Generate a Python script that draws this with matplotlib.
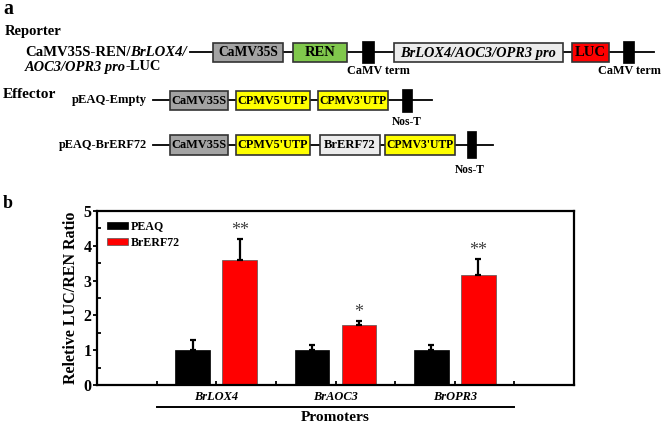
import matplotlib.pyplot as plt
import matplotlib.transforms as mtransforms
from matplotlib.patches import Rectangle

# bar chart data (panel b)
promoters = ['BrLOX4', 'BrAOC3', 'BrOPR3']
peaq = [1.0, 1.0, 1.0]
peaq_err = [0.28, 0.14, 0.16]
erf72 = [3.58, 1.73, 3.15]
erf72_err = [0.62, 0.11, 0.47]
stars = ['**', '*', '**']

# construct labels (panel a)
reporter_parts = ['CaMV35S', 'REN', 'BrLOX4/AOC3/OPR3 pro', 'LUC']
empty_parts = ['CaMV35S', "CPMV5'UTP", "CPMV3'UTP"]
erf_parts = ['CaMV35S', "CPMV5'UTP", 'BrERF72', "CPMV3'UTP"]

plt.rcParams['font.family'] = ['Liberation Serif', 'DejaVu Serif']
plt.rcParams['font.weight'] = 'bold'

fig = plt.figure(figsize=(6.62, 4.24), dpi=100)
ov = fig.add_axes([0, 0, 1, 1])
ov.set_xlim(0, 662)
ov.set_ylim(424, 0)
ov.axis('off')
renderer = fig.canvas.get_renderer()

GRAY = '#a3a3a3'
LIGHT = '#ececec'
GREEN = '#80c84c'
YELLOW = '#ffff00'
RED = '#ff0000'


def fit(text, target, **kw):
    # font size that gives the text about the wanted width in pixels
    t = ov.text(0, 0, text, fontsize=10, fontweight='bold', **kw)
    w = t.get_window_extent(renderer).width
    t.remove()
    return 10 * target / w


def label(x, y, text, target, ha='left', **kw):
    ov.text(x, y, text, fontsize=fit(text, target, **kw), fontweight='bold',
            ha=ha, va='center', **kw)


def box(x0, x1, y0, y1, text, fc, tw, italic=False):
    st = 'italic' if italic else 'normal'
    ov.add_patch(Rectangle((x0, y0), x1 - x0, y1 - y0, fc=fc, ec='#333333', lw=1.2, zorder=3))
    ov.text((x0 + x1) / 2, (y0 + y1) / 2 + 0.5, text, ha='center', va='center',
            fontsize=min(fit(text, tw, style=st), 10.5), fontweight='bold', style=st, zorder=4)


def term(x0, x1, y0, y1):
    ov.add_patch(Rectangle((x0, y0), x1 - x0, y1 - y0, fc='black', ec='black', lw=0.5, zorder=3))


def line(x0, x1, y):
    ov.plot([x0, x1], [y, y], color='black', lw=1.3, zorder=2)


def chain(x, y, parts, target):
    total = 0
    for s, st in parts:
        t = ov.text(0, 0, s, style=st, fontsize=10, fontweight='bold')
        total += t.get_window_extent(renderer).width
        t.remove()
    size = 10 * target / total
    for s, st in parts:
        t = ov.text(x, y, s, style=st, fontsize=size, fontweight='bold', va='center', ha='left')
        x += t.get_window_extent(renderer).width


label(3, 9, 'a', 10)
label(5, 31, 'Reporter', 57)
label(3, 95, 'Effector', 54)
label(3, 203, 'b', 10)

# reporter construct
chain(25, 52, [('CaMV35S-REN/', 'normal'), ('BrLOX4/', 'italic')], 162)
chain(25, 67, [('AOC3/OPR3 pro', 'italic'), ('-LUC', 'normal')], 137)
line(190, 654, 52)
rep_x = [(213, 283), (293, 347), (394, 563), (572, 609)]
rep_w = [60, 31, 155, 32]
rep_fc = [GRAY, GREEN, LIGHT, RED]
for (x0, x1), lab, fc, tw in zip(rep_x, reporter_parts, rep_fc, rep_w):
    box(x0, x1, 43, 62, lab, fc, tw, italic=('pro' in lab))
term(362, 374, 41, 63)
term(623, 634, 41, 63)
label(378, 71, 'CaMV term', 63, ha='center')
label(629, 71, 'CaMV term', 63, ha='center')

# effector constructs
label(147, 100, 'pEAQ-Empty', 75, ha='right')
line(153, 432, 100)
for (x0, x1), lab, fc, tw in zip([(170, 228), (236, 310), (318, 388)], empty_parts,
                                 [GRAY, YELLOW, YELLOW], [55, 70, 67]):
    box(x0, x1, 91, 110, lab, fc, tw)
term(402, 412, 89, 112)
label(407, 122, 'Nos-T', 30, ha='center')

label(147, 145, 'pEAQ-BrERF72', 88, ha='right')
line(153, 493, 145)
for (x0, x1), lab, fc, tw in zip([(170, 228), (236, 310), (320, 380), (385, 455)], erf_parts,
                                 [GRAY, YELLOW, LIGHT, YELLOW], [55, 70, 52, 67]):
    box(x0, x1, 135, 155, lab, fc, tw)
term(467, 476, 131, 158)
label(470, 170, 'Nos-T', 30, ha='center')

# panel b bar chart
cat_size = fit('BrLOX4', 44, style='italic')
leg_size = fit('BrERF72', 49)
prom_size = fit('Promoters', 69)

ax = fig.add_axes([97 / 662, (424 - 385) / 424, 477 / 662, 174 / 424])
x = [1, 2, 3]
w = 0.29
off = 0.197
ax.bar([i - off for i in x], peaq, w, color='black', edgecolor='black', lw=0.5, label='PEAQ',
       yerr=[[0] * 3, peaq_err], capsize=2.5, error_kw=dict(elinewidth=1.6, capthick=1.6))
ax.bar([i + off for i in x], erf72, w, color=RED, edgecolor='#555555', lw=0.5, label='BrERF72',
       yerr=[[0] * 3, erf72_err], capsize=2.5, error_kw=dict(elinewidth=1.6, capthick=1.6))
for i, v, e, s in zip(x, erf72, erf72_err, stars):
    ax.text(i + off, v + e + 0.24, s, ha='center', va='center', fontsize=13,
            fontweight='normal', color='#404040')

ax.set_xlim(0, 4)
ax.set_ylim(0, 5)
ax.set_yticks(range(6))
ax.set_yticks([0.5, 1.5, 2.5, 3.5, 4.5], minor=True)
ax.set_xticks(x)
ax.set_xticklabels(promoters, style='italic', fontsize=cat_size, fontweight='bold')
ax.set_xticks([0.5, 1.5, 2.5, 3.5], minor=True)
ax.tick_params(axis='x', which='both', direction='in', width=1.3, length=3, pad=4)
ax.tick_params(axis='y', which='major', direction='out', width=1.3, length=3, pad=1,
               labelsize=11.5)
ax.tick_params(axis='y', which='minor', direction='in', width=1.3, length=3)
for lab in ax.get_yticklabels():
    lab.set_fontweight('bold')
for sp in ax.spines.values():
    sp.set_linewidth(1.6)
ax.set_ylabel('Reletive LUC/REN Ratio', fontsize=11.5, fontweight='bold', labelpad=3)
ax.legend(loc='upper left', frameon=False, handlelength=1.8, handleheight=0.55,
          handletextpad=0.2, labelspacing=0.35, borderaxespad=0.5, borderpad=0.3,
          prop=dict(weight='bold', size=leg_size))

trans = mtransforms.blended_transform_factory(ax.transData, ax.transAxes)
ax.plot([0.5, 3.5], [-0.128, -0.128], color='black', lw=1.4, transform=trans, clip_on=False)
ax.text(2, -0.185, 'Promoters', transform=trans, ha='center', va='center', fontsize=prom_size,
        fontweight='bold')

fig.savefig('out.png', dpi=100)
